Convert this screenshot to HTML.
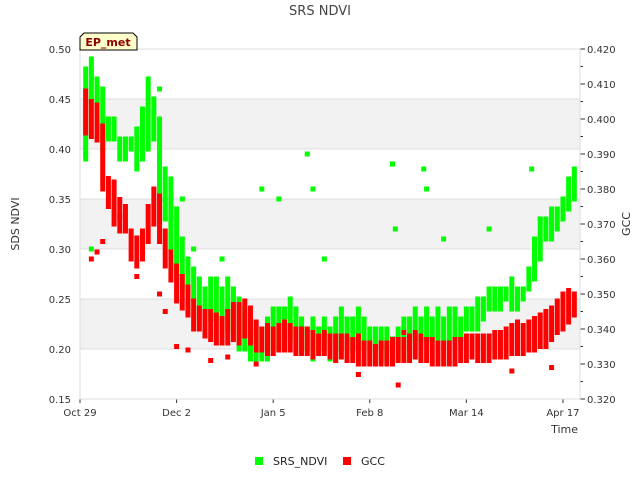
<!DOCTYPE html>
<html><head><meta charset="utf-8"><style>
body{margin:0;background:#fff;font-family:"Liberation Sans","DejaVu Sans",sans-serif;}
svg text{font-family:"DejaVu Sans","Liberation Sans",sans-serif;}
</style></head><body>
<svg id="chart" width="640" height="480" xmlns="http://www.w3.org/2000/svg">
<rect width="640" height="480" fill="#fff"/>
<g id="bands"></g><g id="grid"></g><g id="marks"></g><g id="axes"></g>
<text x="320" y="15" text-anchor="middle" font-size="13" fill="#444">SRS NDVI</text>
<text transform="translate(19,224) rotate(-90)" text-anchor="middle" font-size="11" fill="#333">SDS NDVI</text>
<text transform="translate(630,224) rotate(-90)" text-anchor="middle" font-size="11" fill="#333">GCC</text>
<text x="578" y="433" text-anchor="end" font-size="11" fill="#333">Time</text>
<g>
<path d="M80,50 L80,37 L84,33 L133,33 L137,37 L137,50 Z" fill="#ffffcc" stroke="#000" stroke-width="1"/>
<text x="108" y="46" text-anchor="middle" font-size="11" font-weight="bold" fill="#8b0000">EP_met</text>
</g>
<g>
<g><rect x="255" y="457" width="8" height="8" fill="#00ff00"/><text x="273" y="465" font-size="11" fill="#222">SRS_NDVI</text></g>
<g><rect x="343" y="457" width="8" height="8" fill="#ff0000"/><text x="361" y="465" font-size="11" fill="#222">GCC</text></g>
</g>
</svg>
<script>
const days=[0,2,4,6,8,10,12,14,16,18,20,22,24,26,28,30,32,34,36,38,40,42,44,46,48,50,52,54,56,58,60,62,64,66,68,70,72,74,76,78,80,82,84,86,88,90,92,94,96,98,100,102,104,106,108,110,112,114,116,118,120,122,124,126,128,130,132,134,136,138,140,142,144,146,148,150,152,154,156,158,160,162,164,166,168,170,172];
const ndviLow=[.39,.45,.44,.40,.41,.41,.39,.39,.40,.38,.39,.40,.41,.35,.33,.30,.28,.26,.24,.25,.23,.22,.23,.23,.22,.22,.22,.20,.20,.19,.19,.19,.19,.20,.20,.20,.21,.20,.20,.20,.19,.20,.20,.19,.19,.20,.20,.20,.20,.20,.19,.20,.19,.19,.19,.19,.19,.20,.21,.21,.21,.21,.21,.21,.21,.21,.21,.22,.22,.22,.23,.24,.24,.24,.25,.24,.24,.25,.26,.27,.29,.31,.31,.32,.33,.34,.35];
const ndviHigh=[.48,.49,.47,.46,.43,.43,.41,.41,.41,.42,.44,.47,.45,.43,.38,.37,.34,.31,.29,.28,.27,.26,.27,.27,.26,.27,.26,.25,.24,.23,.22,.22,.23,.24,.24,.24,.25,.24,.23,.22,.23,.22,.23,.22,.23,.24,.23,.23,.24,.23,.22,.22,.22,.22,.21,.22,.23,.23,.24,.23,.24,.23,.24,.23,.24,.24,.23,.24,.24,.25,.25,.26,.26,.26,.26,.27,.26,.26,.28,.31,.33,.33,.34,.34,.35,.37,.38];
const gccLow=[.396,.395,.394,.380,.375,.370,.368,.368,.360,.358,.360,.365,.370,.365,.358,.354,.348,.346,.344,.340,.340,.338,.337,.336,.336,.336,.337,.336,.338,.336,.334,.334,.333,.333,.334,.334,.334,.333,.333,.333,.332,.333,.333,.332,.331,.332,.331,.331,.330,.330,.330,.330,.330,.330,.330,.331,.331,.331,.332,.331,.331,.330,.330,.330,.330,.330,.331,.331,.332,.331,.331,.331,.332,.332,.332,.333,.333,.333,.334,.334,.335,.335,.337,.339,.340,.342,.344];
const gccHigh=[.408,.405,.404,.398,.383,.382,.377,.375,.368,.366,.368,.375,.380,.378,.368,.362,.358,.355,.352,.348,.346,.345,.345,.344,.343,.345,.347,.347,.348,.346,.342,.340,.341,.340,.341,.342,.341,.340,.340,.340,.339,.338,.339,.338,.338,.338,.338,.337,.338,.336,.336,.335,.336,.336,.337,.337,.337,.338,.339,.338,.337,.337,.336,.336,.336,.337,.337,.338,.338,.338,.338,.338,.339,.339,.340,.341,.342,.341,.342,.343,.344,.345,.346,.348,.350,.351,.350];
const ndviOutDays=[0,2,26,28,30,34,38,48,62,68,78,80,84,108,109,119,120,126,142,157,160];
const ndviOutVals=[.395,.30,.46,.35,.33,.35,.30,.29,.36,.35,.395,.36,.29,.385,.32,.38,.36,.31,.32,.38,.33];
const gccOutDays=[2,4,6,12,18,26,28,32,36,44,50,60,96,104,110,112,150,164];
const gccOutVals=[.360,.362,.365,.372,.355,.350,.345,.335,.334,.331,.332,.330,.327,.335,.324,.339,.328,.329];
const ndviTicks=[0.15,0.20,0.25,0.30,0.35,0.40,0.45,0.50];
const gccTicks=[0.32,0.33,0.34,0.35,0.36,0.37,0.38,0.39,0.40,0.41,0.42];
const dateTicks=[0,34,68,102,136,170];
const dateLabels=["Oct 29","Dec 2","Jan 5","Feb 8","Mar 14","Apr 17"];
const X0=80,X1=580,Y0=49,Y1=399;
const xS=d=>X0+d*(X1-X0)/176;
const yL=v=>Y1-(v-0.15)*(Y1-Y0)/0.35;
const yR=v=>Y1-(v-0.32)*(Y1-Y0)/0.10;
const NS="http://www.w3.org/2000/svg";
function mk(p,t,a){const e=document.createElementNS(NS,t);for(const k in a)e.setAttribute(k,a[k]);p.appendChild(e);return e;}
const bands=document.getElementById('bands'),grid=document.getElementById('grid'),marks=document.getElementById('marks'),axes=document.getElementById('axes');
mk(bands,'rect',{x:X0,y:Y0,width:X1-X0,height:Y1-Y0,fill:'#fff'});
[[0.40,0.45],[0.30,0.35],[0.20,0.25]].forEach(b=>{const r=mk(bands,'rect',{x:X0,y:yL(b[1]),width:X1-X0,height:yL(b[0])-yL(b[1]),fill:'#f2f2f2'});

});
ndviTicks.forEach(v=>{const l=mk(grid,'line',{x1:X0,x2:X1,y1:yL(v),y2:yL(v),stroke:'#ddd','stroke-width':1});


const t=mk(axes,'text',{x:71,y:yL(v)+4,'text-anchor':'end','font-size':10,fill:'#333'});t.textContent=v.toFixed(2);

});
gccTicks.forEach(v=>{mk(axes,'line',{x1:X1,x2:X1+5,y1:yR(v),y2:yR(v),stroke:'#333'});
if(v<0.42){mk(axes,'line',{x1:X1,x2:X1+3,y1:yR(v+0.005),y2:yR(v+0.005),stroke:'#333'});}
const t=mk(axes,'text',{x:587,y:yR(v)+4,'font-size':10,fill:'#333'});t.textContent=v.toFixed(3);

});
dateTicks.forEach((d,i)=>{mk(axes,'line',{x1:xS(d),x2:xS(d),y1:Y1,y2:Y1+4,stroke:'#333'});
const t=mk(axes,'text',{x:xS(d),y:416,'text-anchor':'middle','font-size':10,fill:'#333'});t.textContent=dateLabels[i];

});
mk(axes,'rect',{x:X0,y:Y0,width:X1-X0,height:Y1-Y0,fill:'none',stroke:'#ddd'});
function bar(col,d,lo,hi,ys,name){const a=ys(hi),b=ys(lo);const r=mk(marks,'rect',{x:xS(d)-2.5,y:a-2.5,width:5,height:(b-a)+5,fill:col});

}
days.forEach((d,i)=>bar('#00ff00',d+2,ndviLow[i],ndviHigh[i],yL,'srs-ndvi-point'));
ndviOutDays.forEach((d,i)=>bar('#00ff00',d+2,ndviOutVals[i],ndviOutVals[i],yL,'srs-ndvi-outlier'));
days.forEach((d,i)=>bar('#ff0000',d+2,gccLow[i],gccHigh[i],yR,'gcc-point'));
gccOutDays.forEach((d,i)=>bar('#ff0000',d+2,gccOutVals[i],gccOutVals[i],yR,'gcc-outlier'));
</script>
</body></html>
